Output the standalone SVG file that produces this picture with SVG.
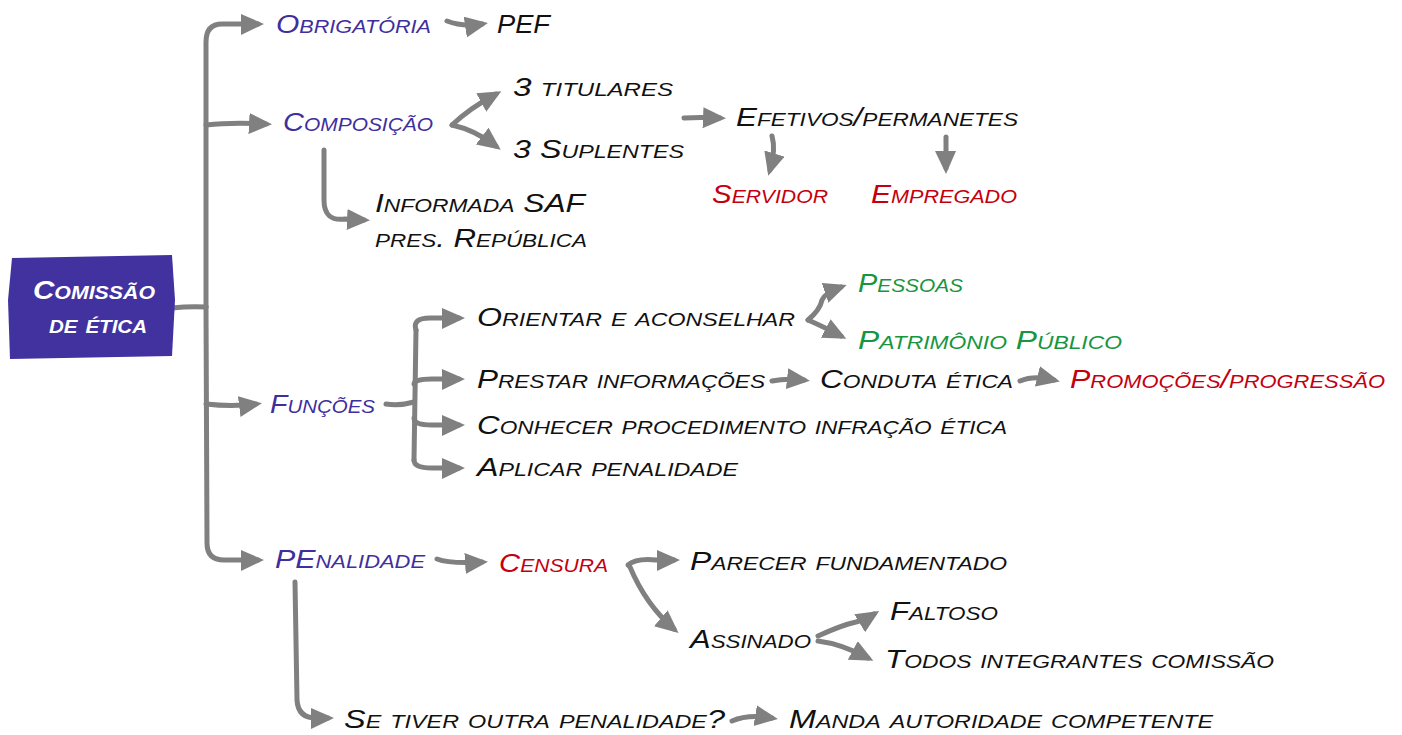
<svg xmlns="http://www.w3.org/2000/svg" width="1402" height="735" viewBox="0 0 1402 735">
<style>
.t{font-family:"Liberation Sans",Arial,sans-serif;font-style:italic;font-variant:small-caps;font-size:25px;fill:#111;}
.p{fill:#3f2f9e;}
.r{fill:#c4000f;}
.g{fill:#17963f;}
.w{fill:#ffffff;font-weight:bold;}
.c{fill:none;stroke:#808080;stroke-width:5;stroke-linecap:round;stroke-linejoin:round;marker-end:url(#ah);}
.n{fill:none;stroke:#808080;stroke-width:5;stroke-linecap:round;stroke-linejoin:round;}
</style>
<defs>
<marker id="ah" markerUnits="userSpaceOnUse" markerWidth="24" markerHeight="22" refX="17" refY="10" orient="auto" viewBox="0 0 24 22">
<path d="M0,0 L23,10 L0,21 z" fill="#808080"/>
</marker>
</defs>
<rect width="1402" height="735" fill="#ffffff"/>

<g id="connectors">
<path class="n" d="M172,308 Q190,306 206,307"/>
<path class="c" d="M206,307 L206,42 Q206,24 222,24 L258,24"/>
<path class="c" d="M206,307 L207,543 Q207,560 224,560 L258,560"/>
<path class="c" d="M206,125 Q232,122 266,124"/>
<path class="c" d="M206,404 Q232,407 256,404"/>
<path class="c" d="M447,21 Q462,27 482,24"/>
<path class="c" d="M452,125 Q470,108 496,94"/>
<path class="c" d="M452,125 Q475,130 496,146"/>
<path class="c" d="M324,150 L324,200 Q324,222 345,219 L364,220"/>
<path class="c" d="M684,118 Q700,117 720,118"/>
<path class="c" d="M772,136 Q776,150 770,170"/>
<path class="c" d="M946,137 L946,168"/>
<path class="n" d="M386,404 Q400,406 414,402"/>
<path class="c" d="M416,330 Q412,318 430,318 L459,318"/>
<path class="n" d="M416,330 L414,460"/>
<path class="c" d="M414,384 Q414,379 432,379 L459,379"/>
<path class="c" d="M414,418 Q414,425 432,425 L459,425"/>
<path class="c" d="M414,460 Q414,468 432,468 L459,468"/>
<path class="c" d="M808,320 Q820,310 822,300 Q826,292 841,287"/>
<path class="c" d="M808,320 Q822,326 841,336"/>
<path class="c" d="M772,381 Q786,378 804,380"/>
<path class="c" d="M1020,381 Q1034,375 1054,380"/>
<path class="c" d="M437,559 Q450,564 482,562"/>
<path class="c" d="M628,565 Q636,558 656,560 L674,560"/>
<path class="c" d="M630,567 Q646,605 674,629"/>
<path class="c" d="M818,636 Q842,625 856,622 Q864,620 874,614"/>
<path class="c" d="M818,641 Q842,644 868,658"/>
<path class="c" d="M295,582 L297,700 Q298,718 316,718 L328,718"/>
<path class="c" d="M732,721 Q748,714 772,718"/>
</g>

<g id="root">
<path d="M12,258 L172,255 L175,300 L172,356 L10,359 L8,300 z" fill="#4232a0"/>
<text class="t w" x="94" y="299" text-anchor="middle" textLength="122" lengthAdjust="spacingAndGlyphs">Comissão</text>
<text class="t w" x="98" y="333" text-anchor="middle" textLength="98" lengthAdjust="spacingAndGlyphs">de ética</text>
</g>

<g id="n-obrigatoria"><text class="t p" x="276" y="33" textLength="155" lengthAdjust="spacingAndGlyphs">Obrigatória</text></g>
<g id="n-pef"><text class="t" x="497" y="33" textLength="53" lengthAdjust="spacingAndGlyphs">PEF</text></g>
<g id="n-composicao"><text class="t p" x="283" y="131" textLength="150" lengthAdjust="spacingAndGlyphs">Composição</text></g>
<g id="n-titulares"><text class="t" x="513" y="96" textLength="160" lengthAdjust="spacingAndGlyphs">3 titulares</text></g>
<g id="n-suplentes"><text class="t" x="513" y="158" textLength="171" lengthAdjust="spacingAndGlyphs">3 Suplentes</text></g>
<g id="n-efetivos"><text class="t" x="736" y="126" textLength="282" lengthAdjust="spacingAndGlyphs">Efetivos/permanetes</text></g>
<g id="n-servidor"><text class="t r" x="712" y="203" textLength="116" lengthAdjust="spacingAndGlyphs">Servidor</text></g>
<g id="n-empregado"><text class="t r" x="871" y="203" textLength="146" lengthAdjust="spacingAndGlyphs">Empregado</text></g>
<g id="n-informada">
<text class="t" x="375" y="212" textLength="210" lengthAdjust="spacingAndGlyphs">Informada SAF</text>
<text class="t" x="375" y="247" textLength="212" lengthAdjust="spacingAndGlyphs">pres. República</text>
</g>
<g id="n-funcoes"><text class="t p" x="270" y="413" textLength="105" lengthAdjust="spacingAndGlyphs">Funções</text></g>
<g id="n-orientar"><text class="t" x="477" y="326" textLength="318" lengthAdjust="spacingAndGlyphs">Orientar e aconselhar</text></g>
<g id="n-pessoas"><text class="t g" x="858" y="292" textLength="105" lengthAdjust="spacingAndGlyphs">Pessoas</text></g>
<g id="n-patrimonio"><text class="t g" x="858" y="349" textLength="264" lengthAdjust="spacingAndGlyphs">Patrimônio Público</text></g>
<g id="n-prestar"><text class="t" x="477" y="388" textLength="288" lengthAdjust="spacingAndGlyphs">Prestar informações</text></g>
<g id="n-conduta"><text class="t" x="820" y="388" textLength="193" lengthAdjust="spacingAndGlyphs">Conduta ética</text></g>
<g id="n-promocoes"><text class="t r" x="1070" y="388" textLength="315" lengthAdjust="spacingAndGlyphs">Promoções/progressão</text></g>
<g id="n-conhecer"><text class="t" x="477" y="434" textLength="530" lengthAdjust="spacingAndGlyphs">Conhecer procedimento infração ética</text></g>
<g id="n-aplicar"><text class="t" x="477" y="476" textLength="261" lengthAdjust="spacingAndGlyphs">Aplicar penalidade</text></g>
<g id="n-penalidade"><text class="t p" x="275" y="568" textLength="150" lengthAdjust="spacingAndGlyphs">PEnalidade</text></g>
<g id="n-censura"><text class="t r" x="499" y="572" textLength="109" lengthAdjust="spacingAndGlyphs">Censura</text></g>
<g id="n-parecer"><text class="t" x="690" y="570" textLength="317" lengthAdjust="spacingAndGlyphs">Parecer fundamentado</text></g>
<g id="n-assinado"><text class="t" x="690" y="648" textLength="121" lengthAdjust="spacingAndGlyphs">Assinado</text></g>
<g id="n-faltoso"><text class="t" x="890" y="620" textLength="108" lengthAdjust="spacingAndGlyphs">Faltoso</text></g>
<g id="n-todos"><text class="t" x="885" y="668" textLength="389" lengthAdjust="spacingAndGlyphs">Todos integrantes comissão</text></g>
<g id="n-setiver"><text class="t" x="344" y="728" textLength="381" lengthAdjust="spacingAndGlyphs">Se tiver outra penalidade?</text></g>
<g id="n-manda"><text class="t" x="789" y="728" textLength="424" lengthAdjust="spacingAndGlyphs">Manda autoridade competente</text></g>
</svg>
